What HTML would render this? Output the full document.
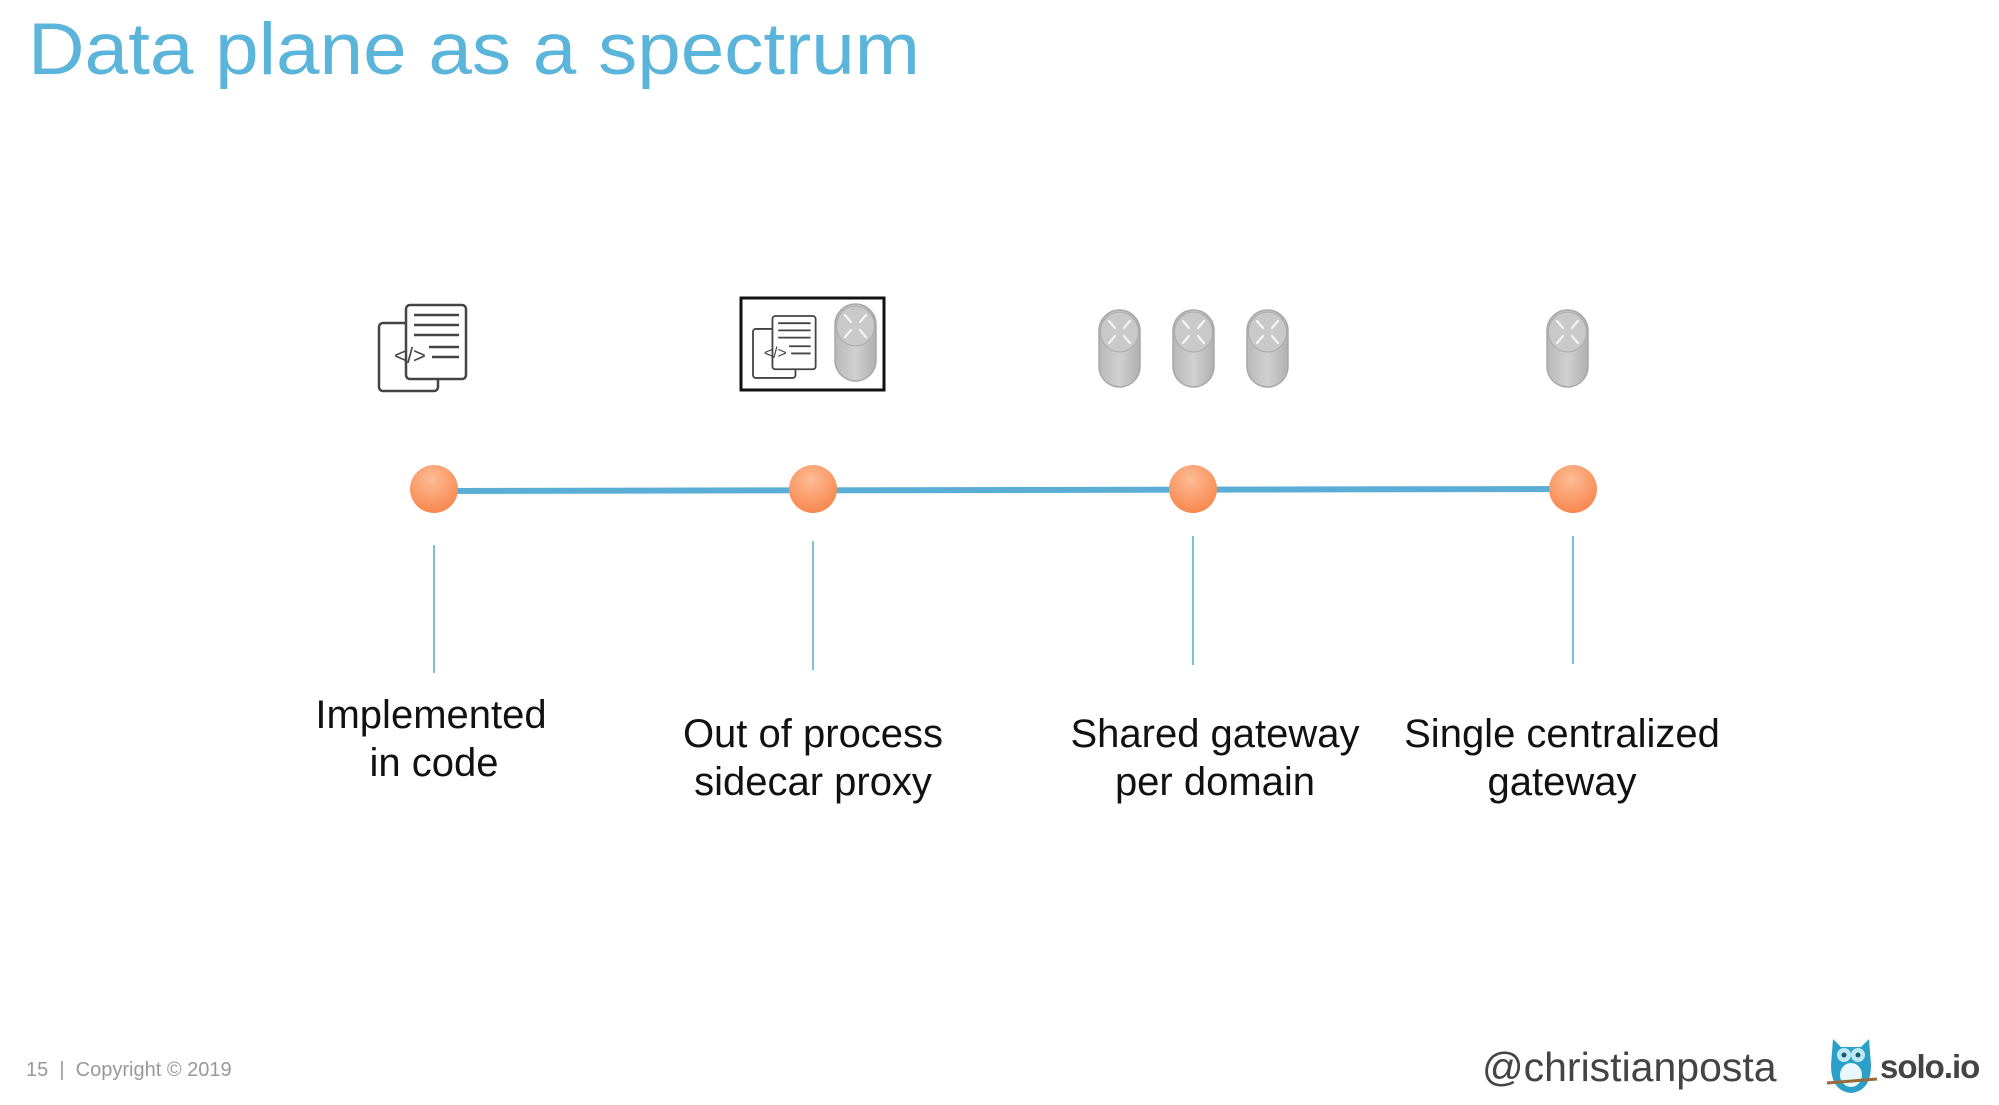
<!DOCTYPE html>
<html><head><meta charset="utf-8"><style>
html,body{margin:0;padding:0;background:#fff;}
svg{display:block;}
text{font-family:"Liberation Sans",Arial,sans-serif;}
</style></head><body>
<svg width="1999" height="1105" viewBox="0 0 1999 1105" xmlns="http://www.w3.org/2000/svg">
<defs>
<radialGradient id="og" cx="0.45" cy="0.3" r="0.75">
<stop offset="0" stop-color="#fdbb94"/><stop offset="1" stop-color="#f7844a"/></radialGradient>
<linearGradient id="rg" x1="0" y1="0" x2="1" y2="0">
<stop offset="0" stop-color="#b8b8b8"/><stop offset="0.5" stop-color="#d0d0d0"/><stop offset="1" stop-color="#b0b0b0"/></linearGradient>
<g id="router">
<rect x="0" y="0" width="41" height="77" rx="20.5" fill="url(#rg)" stroke="#a8a8a8" stroke-width="1.5"/>
<ellipse cx="20.5" cy="22" rx="19" ry="20" fill="#c9c9c9" stroke="#aaa" stroke-width="1"/>
<g stroke="#f4f4f4" stroke-width="2.2" stroke-linecap="round">
<line x1="10" y1="11" x2="16" y2="18"/><line x1="31" y1="11" x2="25" y2="18"/>
<line x1="10" y1="33" x2="16" y2="26"/><line x1="31" y1="33" x2="25" y2="26"/>
</g>
</g>
<g id="code">
<rect x="0" y="18" width="59" height="68" rx="4" fill="#fff" stroke="#444" stroke-width="2.5"/>
<rect x="27" y="0" width="60" height="74" rx="4" fill="#fff" stroke="#444" stroke-width="2.5"/>
<g stroke="#444" stroke-width="2.5">
<line x1="35" y1="10" x2="80" y2="10"/><line x1="35" y1="20" x2="80" y2="20"/>
<line x1="35" y1="30" x2="80" y2="30"/><line x1="50" y1="42" x2="80" y2="42"/>
<line x1="53" y1="52" x2="80" y2="52"/>
</g>
<text x="31" y="58" font-size="22" fill="#444" text-anchor="middle">&lt;/&gt;</text>
</g>
</defs>

<text x="28" y="74" font-size="73" fill="#5bb4d9" textLength="892" lengthAdjust="spacingAndGlyphs">Data plane as a spectrum</text>

<!-- icons -->
<use href="#code" transform="translate(379,305)"/>
<rect x="741" y="298" width="143" height="92" fill="#fff" stroke="#111" stroke-width="3"/>
<use href="#code" transform="translate(753,316) scale(0.72)"/>
<use href="#router" transform="translate(835,304)"/>
<use href="#router" transform="translate(1099,310)"/>
<use href="#router" transform="translate(1173,310)"/>
<use href="#router" transform="translate(1247,310)"/>
<use href="#router" transform="translate(1547,310)"/>

<!-- timeline -->
<line x1="434" y1="491" x2="1573" y2="489" stroke="#5aaed6" stroke-width="6"/>
<g fill="url(#og)">
<circle cx="434" cy="489" r="24"/><circle cx="813" cy="489" r="24"/>
<circle cx="1193" cy="489" r="24"/><circle cx="1573" cy="489" r="24"/>
</g>
<g stroke="#7cc0e0" stroke-width="2">
<line x1="434" y1="545" x2="434" y2="673"/>
<line x1="813" y1="541" x2="813" y2="670"/>
<line x1="1193" y1="536" x2="1193" y2="665"/>
<line x1="1573" y1="536" x2="1573" y2="664"/>
</g>

<g font-size="40" fill="#111" text-anchor="middle">
<text x="431" y="728">Implemented</text><text x="434" y="776">in code</text>
<text x="813" y="747">Out of process</text><text x="813" y="795">sidecar proxy</text>
<text x="1215" y="747">Shared gateway</text><text x="1215" y="795">per domain</text>
<text x="1562" y="747">Single centralized</text><text x="1562" y="795">gateway</text>
</g>

<text x="26" y="1076" font-size="20" fill="#999" xml:space="preserve">15  |  Copyright © 2019</text>
<text x="1482" y="1081" font-size="41" fill="#444">@christianposta</text>
<!-- owl -->
<g transform="translate(1827,1035)">
<path d="M6 4 L14 12 L34 12 L42 4 L44 30 Q44 56 24 58 Q4 56 4 30 Z" fill="#2aa0c8"/>
<circle cx="17" cy="20" r="7" fill="#bfe8f4"/><circle cx="31" cy="20" r="7" fill="#bfe8f4"/>
<circle cx="17" cy="20" r="2.5" fill="#1a5a70"/><circle cx="31" cy="20" r="2.5" fill="#1a5a70"/>
<ellipse cx="24" cy="40" rx="11" ry="12" fill="#e8f7fb"/>
<line x1="0" y1="48" x2="50" y2="44" stroke="#9a6a3a" stroke-width="3"/>
</g>
<text x="1880" y="1078" font-size="33" font-weight="bold" fill="#444" letter-spacing="-1">solo.io</text>
</svg>
</body></html>
